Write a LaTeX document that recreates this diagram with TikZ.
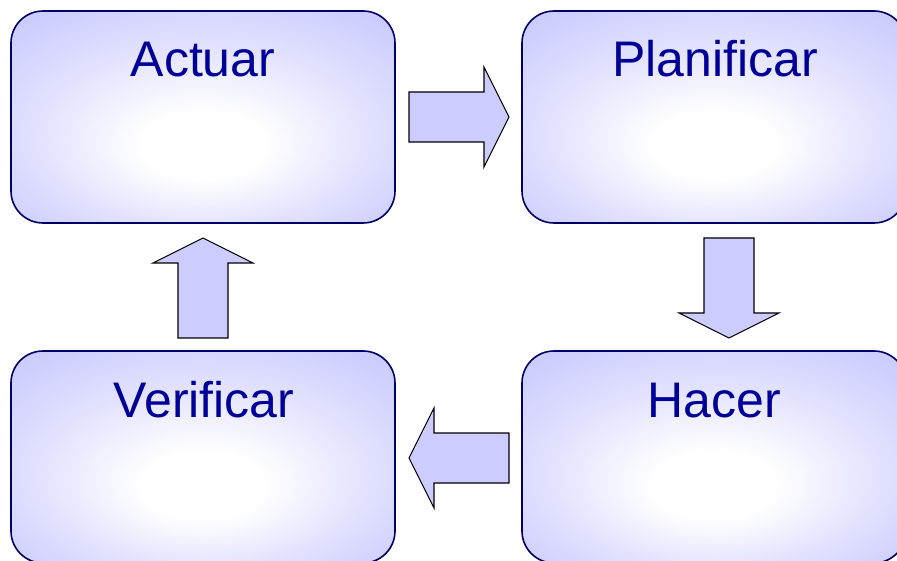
\documentclass[tikz,border=0pt]{standalone}
\usepackage{fontspec}
\setmainfont{Liberation Sans}
\definecolor{lav}{HTML}{C8C8FF}
\definecolor{arrowfill}{HTML}{CCCCFF}
\definecolor{navyline}{HTML}{000066}
\definecolor{navytext}{HTML}{000099}
\pgfdeclareradialshading{boxglow}{\pgfpoint{0bp}{-8bp}}{%
  color(0bp)=(white); color(8bp)=(white); color(22bp)=(lav!55!white);
  color(34bp)=(lav!92!white); color(50bp)=(lav)}
\tikzset{
  phase/.style={rectangle, rounded corners=32pt, draw=navyline, line width=1.6pt,
    shading=boxglow, minimum width=384pt, minimum height=212pt, inner sep=0pt},
  phasetext/.style={anchor=base, text=navytext, font=\fontsize{50pt}{53pt}\selectfont},
  blockarrow/.style={fill=arrowfill, draw=black, line width=1.1pt, line join=miter}
}
\begin{document}
\begin{tikzpicture}[x=1pt, y=-1pt]
  \useasboundingbox (0,0) rectangle (897,561);
  \clip (0,0) rectangle (897,561);

  % the four phases of the cycle
  \node[phase] (actuar)     at (203,117) {};
  \node[phase] (planificar) at (714,117) {};
  \node[phase] (verificar)  at (203,457) {};
  \node[phase] (hacer)      at (714,457) {};

  \node[phasetext] (tact) at (203,77)  {Actuar};
  \node[phasetext] (tpla) at (715,77)  {Planificar};
  \node[phasetext] (tver) at (204,417) {Verificar};
  \node[phasetext] (thac) at (714,417) {Hacer};

  % block arrows between the phases
  \draw[blockarrow] (409,92) -- (484,92) -- (484,67) -- (509,117)
    -- (484,167) -- (484,142) -- (409,142) -- cycle;
  \draw[blockarrow] (704,238) -- (754,238) -- (754,313) -- (779,313)
    -- (729,338) -- (679,313) -- (704,313) -- cycle;
  \draw[blockarrow] (509,433) -- (434,433) -- (434,408) -- (409,458)
    -- (434,508) -- (434,483) -- (509,483) -- cycle;
  \draw[blockarrow] (203,238) -- (253,263) -- (228,263) -- (228,338)
    -- (178,338) -- (178,263) -- (153,263) -- cycle;
\end{tikzpicture}
\end{document}
